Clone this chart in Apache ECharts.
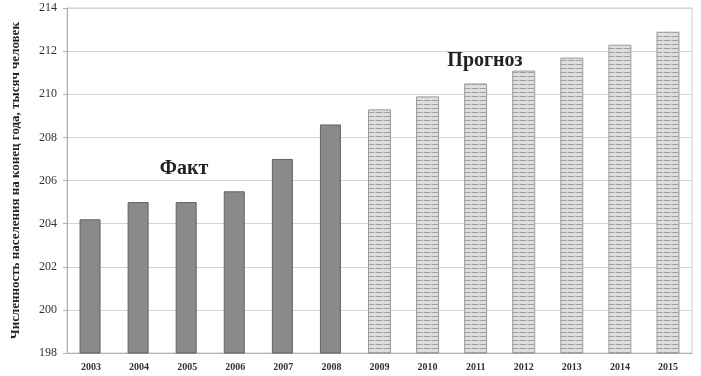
<!DOCTYPE html>
<html>
<head>
<meta charset="utf-8">
<script src="https://cdn.jsdelivr.net/npm/echarts@6/dist/echarts.min.js"></script>
<style>
  html, body { margin: 0; padding: 0; background: #fff; }
  #chart { width: 701px; height: 376px; }
</style>
</head>
<body>
<div id="chart"></div>
<script>
// Population at year end, thousand people
const years = ['2003', '2004', '2005', '2006', '2007', '2008',
               '2009', '2010', '2011', '2012', '2013', '2014', '2015'];
const factValues = [204.2, 205.0, 205.0, 205.5, 207.0, 208.6];
const forecastValues = [209.3, 209.9, 210.5, 211.1, 211.7, 212.3, 212.9];
const yTicks = [198, 200, 202, 204, 206, 208, 210, 212, 214];
const yTitle = 'Численность населения на конец года, тысяч человек';
const factLabel = 'Факт';
const forecastLabel = 'Прогноз';

// Horizontal dashed hatch used for the forecast bars
function makeHatch() {
  const c = document.createElement('canvas');
  c.width = 8; c.height = 4;
  const g = c.getContext('2d');
  g.fillStyle = '#dedede';
  g.fillRect(0, 0, 8, 4);
  g.fillStyle = '#a0a0a0';
  g.fillRect(0, 0, 6, 1);
  g.fillStyle = '#c4c4c4';
  g.fillRect(6, 0, 2, 1);
  return c;
}

const factSeries = years.map((y, i) => i < factValues.length ? factValues[i] : '-');
const forecastSeries = years.map((y, i) => i >= factValues.length ? forecastValues[i - factValues.length] : '-');

const chart = echarts.init(document.getElementById('chart'), null, { renderer: 'canvas' });
chart.setOption({
  animation: false,
  backgroundColor: '#ffffff',
  grid: {
    left: 67, right: 9, top: 8, bottom: 23,
    outerBoundsMode: 'none', containLabel: false,
    show: true, borderColor: '#cfcfcf', borderWidth: 1
  },
  xAxis: {
    type: 'category',
    data: years,
    axisLine: { show: true, lineStyle: { color: '#b0b0b0', width: 1 } },
    axisTick: { show: false },
    axisLabel: { color: '#333', fontFamily: 'Liberation Serif', fontSize: 10, fontWeight: 'bold', margin: 9 }
  },
  yAxis: {
    type: 'value',
    min: yTicks[0],
    max: yTicks[yTicks.length - 1],
    interval: 2,
    name: yTitle,
    nameLocation: 'middle',
    nameGap: 45,
    nameRotate: 90,
    nameTextStyle: { color: '#222', fontFamily: 'Liberation Serif', fontSize: 13, fontWeight: 'bold' },
    axisLine: { show: true, lineStyle: { color: '#b0b0b0' } },
    axisTick: { show: true, length: 4, lineStyle: { color: '#b0b0b0' } },
    splitLine: { show: true, lineStyle: { color: '#d4d4d4', width: 1 } },
    axisLabel: { color: '#333', fontFamily: 'Liberation Serif', fontSize: 12, margin: 10 }
  },
  series: [
    {
      type: 'bar',
      data: factSeries,
      barWidth: 21,
      barGap: '-100%',
      itemStyle: { color: '#8a8a8a', borderColor: '#626262', borderWidth: 1 }
    },
    {
      type: 'bar',
      data: forecastSeries,
      barWidth: 23,
      itemStyle: { color: { image: makeHatch(), repeat: 'repeat' }, borderColor: '#9a9a9a', borderWidth: 1 }
    }
  ],
  graphic: [
    {
      type: 'text',
      style: { x: 184, y: 169, text: factLabel, fill: '#222', font: 'bold 20px "Liberation Serif"',
               align: 'center', verticalAlign: 'middle' }
    },
    {
      type: 'text',
      style: { x: 485, y: 61, text: forecastLabel, fill: '#222', font: 'bold 20px "Liberation Serif"',
               align: 'center', verticalAlign: 'middle' }
    }
  ]
});
</script>
</body>
</html>
